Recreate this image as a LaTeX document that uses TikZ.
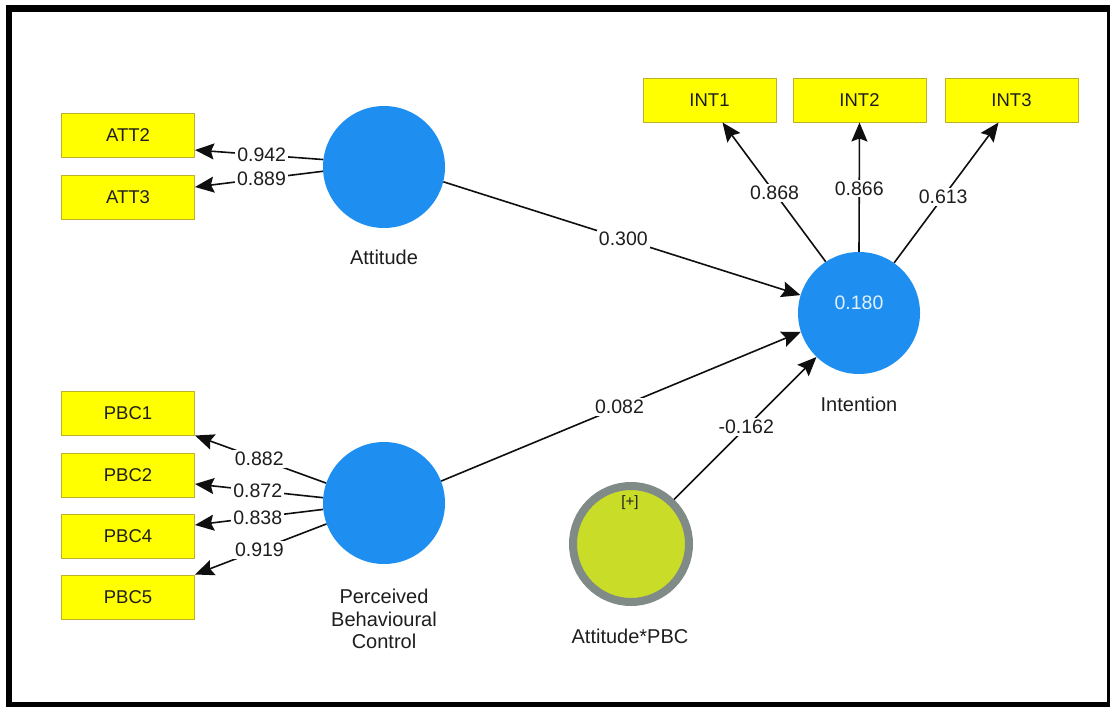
\documentclass[tikz,border=0pt]{standalone}
\usepackage{fontspec}
\setmainfont{Liberation Sans}
\usetikzlibrary{arrows.meta}
\definecolor{boxfill}{RGB}{255,255,0}
\definecolor{boxedge}{RGB}{190,176,40}
\definecolor{latblue}{RGB}{30,143,240}
\definecolor{modfill}{RGB}{200,220,40}
\definecolor{modring}{RGB}{128,138,134}
\definecolor{txt}{RGB}{30,30,30}
\definecolor{linec}{RGB}{15,15,15}
\definecolor{rsq}{RGB}{225,240,255}
\begin{document}
\begin{tikzpicture}[x=1pt,y=-1pt,
  font=\fontsize{19.5}{22.5}\selectfont,
  ind/.style={draw=boxedge, fill=boxfill, minimum width=133pt, minimum height=44pt, inner sep=0pt, line width=1pt, text=txt, font=\fontsize{18.5}{22}\selectfont},
  lat/.style={circle, fill=latblue, minimum size=122pt, inner sep=0pt},
  lbl/.style={fill=white, inner sep=2pt, text=txt},
  captxt/.style={text=txt, align=center, inner sep=0pt, font=\fontsize{20}{22.5}\selectfont},
  arr/.style={draw=linec, line width=1.6pt, -{Stealth[length=19pt 0 0,width=16pt 0,inset=3pt 0]}}]
\useasboundingbox (0,0) rectangle (1110,707);
\fill[black] (6,5) rectangle (1110,707);
\fill[white] (12,12) rectangle (1107,702);

% indicators
\node[ind] (ATT2) at (128,135) {ATT2};
\node[ind] (ATT3) at (128,197) {ATT3};
\node[ind] (PBC1) at (128,413) {PBC1};
\node[ind] (PBC2) at (128,475) {PBC2};
\node[ind] (PBC4) at (128,536) {PBC4};
\node[ind] (PBC5) at (128,597) {PBC5};
\node[ind] (INT1) at (709.5,100) {INT1};
\node[ind] (INT2) at (859.5,100) {INT2};
\node[ind] (INT3) at (1011.5,100) {INT3};

% latent variables
\node[lat] (Att) at (384,167) {};
\node[lat] (PBC) at (384,503) {};
\node[lat] (Int) at (859,313) {};
\node[text=rsq, inner sep=0pt] (R2) at (859,303) {0.180};
\node[circle, fill=modfill, draw=modring, line width=8pt, minimum size=116pt, inner sep=0pt] (AxP) at (631,544) {};
\node[text=txt, font=\fontsize{15}{17}\selectfont, inner sep=0pt] (plus) at (630,503) {[+]};

% captions
\node[captxt] (AttL) at (384,257) {Attitude};
\node[captxt] (PBCL) at (384,619) {Perceived\\Behavioural\\Control};
\node[captxt] (IntL) at (859,404) {Intention};
\node[captxt] (AxPL) at (630,636) {Attitude*PBC};

% outer loadings
\draw[arr] (Att.173.6) -- node[lbl, pos=0.48] (l1) {0.942} ([yshift=-15pt]ATT2.east);
\draw[arr] (Att.184.6) -- node[lbl, pos=0.48] (l2) {0.889} ([yshift=10pt]ATT3.east);
\draw[arr] (PBC.161.3) -- node[lbl, pos=0.51] (l3) {0.882} (PBC1.south east);
\draw[arr] (PBC.175.4) -- node[lbl, pos=0.51] (l4) {0.872} ([yshift=-9pt]PBC2.east);
\draw[arr] (PBC.186.4) -- node[lbl, pos=0.51] (l5) {0.838} ([yshift=11pt]PBC4.east);
\draw[arr] (PBC.200.4) -- node[lbl, pos=0.51] (l6) {0.919} (PBC5.north east);
\draw[arr] (Int.123.9) -- node[lbl, pos=0.495] (l7) {0.868} ([xshift=13pt]INT1.south);
\draw[arr] (Int.north) -- node[lbl, pos=0.49] (l8) {0.866} (INT2.south);
\draw[arr] (Int.55.4) -- node[lbl, pos=0.47] (l9) {0.613} ([xshift=-13pt]INT3.south);

% path coefficients
\draw[arr] (Att.-14.5) -- node[lbl, pos=0.504] (p1) {0.300} (Int.163.8);
\draw[arr] (PBC.21.3) -- node[lbl, pos=0.496] (p2) {0.082} (Int.198.7);
\draw[arr] (AxP.46.3) -- node[lbl, pos=0.507] (p3) {-0.162} (Int.226.9);
\end{tikzpicture}
\end{document}
